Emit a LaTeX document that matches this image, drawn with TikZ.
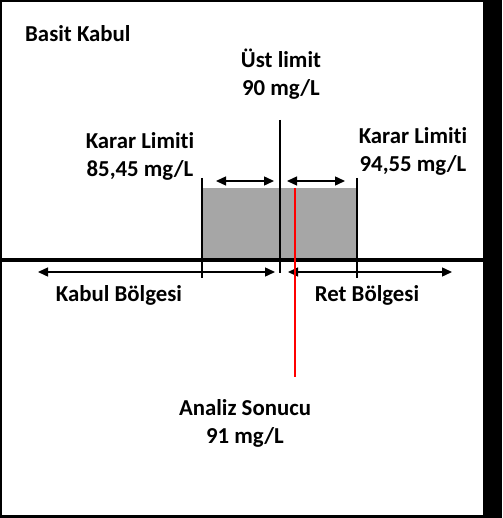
\documentclass[tikz,border=0pt]{standalone}
\usepackage{fontspec}
\setmainfont{Carlito}[Ligatures=NoCommon]
\usetikzlibrary{arrows.meta}
\begin{document}
\begin{tikzpicture}[x=1pt,y=-1pt,
  lbl/.style={font=\bfseries\fontsize{22.8}{28}\selectfont, align=center, inner sep=0pt},
  dbl/.style={line width=1.4pt, {Triangle[width=9pt,length=10pt]}-{Triangle[width=9pt,length=10pt]}},
  vline/.style={line width=1.6pt}]
\useasboundingbox (0,0) rectangle (502,518);
\fill[black] (0,0) rectangle (502,518);
\fill[white] (2,2) rectangle (483,515);
% gray box
\fill[gray!70] (202,188) rectangle (358,260);
% coordinates
\coordinate (lt) at (202,178); \coordinate (lb) at (202,278);
\coordinate (mt) at (280,120); \coordinate (mb) at (280,273);
\coordinate (rt) at (357,178); \coordinate (rb) at (357,278);
\coordinate (ax1) at (2,260); \coordinate (ax2) at (483,260);
\coordinate (a1) at (216,181); \coordinate (a2) at (274,181);
\coordinate (a3) at (287,181); \coordinate (a4) at (345,181);
\coordinate (b1) at (38,272); \coordinate (b2) at (275,272);
\coordinate (b3) at (288,272); \coordinate (b4) at (452,272);
\coordinate (rt1) at (295,188); \coordinate (rt2) at (295,377);
% axis
\draw[line width=4.5pt] (ax1) -- (ax2);
\draw[vline] (lt) -- (lb);
\draw[vline] (mt) -- (mb);
\draw[vline] (rt) -- (rb);
\draw[dbl] (a1) -- (a2);
\draw[dbl] (a3) -- (a4);
\draw[dbl] (b1) -- (b2);
\draw[dbl] (b3) -- (b4);
\draw[red, line width=2pt] (rt1) -- (rt2);
% labels
\node[lbl, anchor=west] (title) at (25,34) {Basit Kabul};
\node[lbl] (ust) at (281,74) {Üst limit\\90 mg/L};
\node[lbl] (kl1) at (140,156) {Karar Limiti\\85,45 mg/L};
\node[lbl] (kl2) at (413,151) {Karar Limiti\\94,55 mg/L};
\node[lbl] (kab) at (119,295) {Kabul Bölgesi};
\node[lbl] (ret) at (367,295) {Ret Bölgesi};
\node[lbl] (an) at (245,423) {Analiz Sonucu\\91 mg/L};
\end{tikzpicture}
\end{document}
